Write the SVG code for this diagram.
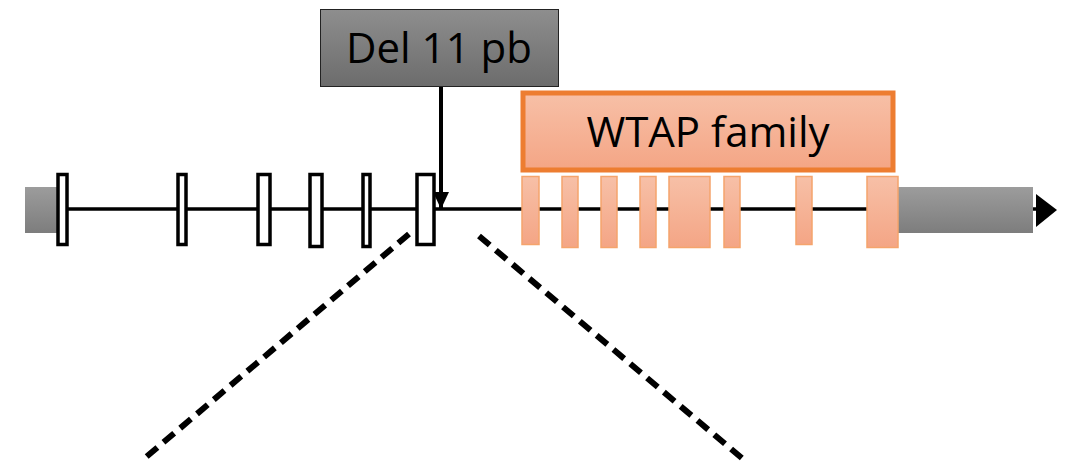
<svg xmlns="http://www.w3.org/2000/svg" width="1071" height="473" viewBox="0 0 1071 473">
  <defs>
    <linearGradient id="gUtr" x1="0" y1="0" x2="0" y2="1">
      <stop offset="0" stop-color="#9c9c9c"/>
      <stop offset="1" stop-color="#7d7d7d"/>
    </linearGradient>
    <linearGradient id="gDel" x1="0" y1="0" x2="0" y2="1">
      <stop offset="0" stop-color="#8e8e8e"/>
      <stop offset="1" stop-color="#6c6c6c"/>
    </linearGradient>
    <linearGradient id="gOrange" x1="0" y1="0" x2="0" y2="1">
      <stop offset="0" stop-color="#f7c0a7"/>
      <stop offset="1" stop-color="#f4a585"/>
    </linearGradient>
    <marker id="head" viewBox="0 0 17 16" refX="16" refY="8" markerWidth="17" markerHeight="16" markerUnits="userSpaceOnUse" orient="auto">
      <path d="M0,0 L17,8 L0,16 Z" fill="#000"/>
    </marker>
  </defs>
  <style>
    .exon { fill: #ffffff; stroke: #000000; stroke-width: 3.5; }
    .oexon { fill: url(#gOrange); stroke: #f5a46c; stroke-width: 1.5; }
    .utr { fill: url(#gUtr); }
    .dash { stroke: #000; stroke-width: 6; stroke-dasharray: 14 8; fill: none; }
    .label { font-family: "Open Sans", "Liberation Sans", sans-serif; font-size: 42px; fill: #000; text-anchor: middle; }
  </style>

  <!-- gene backbone -->
  <g id="backbone">
    <line x1="40" y1="209" x2="1040" y2="209" stroke="#000" stroke-width="3.5"/>
    <rect class="utr" x="25" y="187" width="33" height="46"/>
    <rect class="utr" x="898" y="187" width="135" height="46"/>
    <path d="M1036,194 L1057,210 L1036,227 Z" fill="#000"/>
  </g>

  <!-- exons upstream -->
  <g id="exons-black">
    <rect class="exon" x="58" y="174.5" width="9" height="70"/>
    <rect class="exon" x="178" y="174.5" width="8" height="70"/>
    <rect class="exon" x="258" y="174.5" width="12" height="70"/>
    <rect class="exon" x="310" y="174.5" width="12" height="72"/>
    <rect class="exon" x="363" y="174.5" width="7" height="72"/>
    <rect class="exon" x="417" y="174.5" width="17" height="70"/>
  </g>

  <!-- WTAP exons -->
  <g id="exons-wtap">
    <rect class="oexon" x="522" y="176.5" width="17" height="68"/>
    <rect class="oexon" x="562" y="176.5" width="16" height="71"/>
    <rect class="oexon" x="601" y="176.5" width="16" height="71"/>
    <rect class="oexon" x="640" y="176.5" width="16" height="71"/>
    <rect class="oexon" x="669" y="176.5" width="41" height="71"/>
    <rect class="oexon" x="724" y="176.5" width="16" height="71"/>
    <rect class="oexon" x="796" y="176.5" width="16" height="68"/>
    <rect class="oexon" x="867" y="176.5" width="31" height="71"/>
  </g>

  <!-- WTAP family label -->
  <g id="wtap-family">
    <rect x="523" y="93" width="370" height="77" fill="url(#gOrange)" stroke="#ed7d31" stroke-width="5"/>
    <text class="label" x="708" y="147">WTAP family</text>
  </g>

  <!-- deletion label -->
  <g id="del-label">
    <rect x="320.5" y="9.5" width="238" height="77" fill="url(#gDel)" stroke="#222" stroke-width="1"/>
    <text class="label" x="439" y="63">Del 11 pb</text>
  </g>

  <!-- connectors -->
  <g id="connectors">
    <line x1="441" y1="87" x2="441" y2="208" stroke="#000" stroke-width="4" marker-end="url(#head)"/>
    <line class="dash" x1="409" y1="234" x2="145" y2="458"/>
    <line class="dash" x1="479" y1="236" x2="743" y2="459"/>
  </g>
</svg>
